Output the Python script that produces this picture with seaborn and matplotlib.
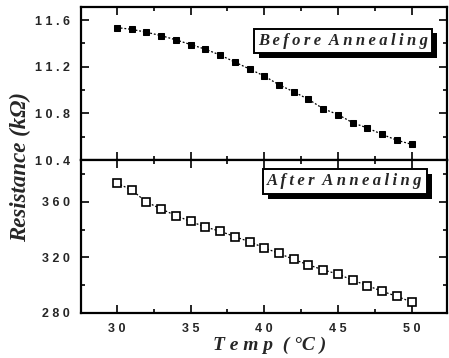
import numpy as np
import pandas as pd
import matplotlib
matplotlib.use('Agg')
import matplotlib.pyplot as plt
import matplotlib.patheffects as pe
from matplotlib.ticker import FixedLocator, MultipleLocator
import seaborn as sns

temp = list(range(30, 51))
before = [11.535, 11.52, 11.495, 11.466, 11.43, 11.39, 11.35, 11.30, 11.24, 11.18, 11.12,
          11.045, 10.985, 10.92, 10.84, 10.79, 10.72, 10.675, 10.62, 10.57, 10.535]
after = [373.4, 368.5, 359.8, 354.9, 350.0, 345.9, 341.8, 338.9, 334.9, 331.3, 326.8,
         322.9, 318.5, 314.6, 311.0, 308.0, 303.6, 299.7, 295.6, 292.0, 287.9]

x_ticks = [30, 35, 40, 45, 50]
top_ticks = [10.4, 10.8, 11.2, 11.6]
bottom_ticks = [280, 320, 360]


def spaced(s, sep=' '):
    return sep.join(s)


sns.set_style('ticks')
plt.rcParams['font.family'] = ['Liberation Sans', 'DejaVu Sans']

df = pd.DataFrame({'temp': temp, 'before': before, 'after': after})

fig, (ax1, ax2) = plt.subplots(2, 1, sharex=True, figsize=(4.49, 3.58), dpi=100)
fig.subplots_adjust(left=0.180, right=0.9955, top=0.980, bottom=0.1257, hspace=0)

sns.lineplot(data=df, x='temp', y='before', ax=ax1, color='black', linestyle=(0, (1.5, 1.5)),
             linewidth=0.9, marker='s', markersize=5, markerfacecolor='black',
             markeredgecolor='black')
sns.lineplot(data=df, x='temp', y='after', ax=ax2, color='black', linestyle=(0, (1.5, 1.5)),
             linewidth=0.9, marker='s', markersize=5.2, markerfacecolor='white',
             markeredgecolor='black', markeredgewidth=1.2)

ax1.set_ylim(10.4, 11.71)
ax2.set_ylim(280, 390)
ax2.set_xlim(27.55, 52.4)

for ax in (ax1, ax2):
    for sp in ax.spines.values():
        sp.set_visible(True)
        sp.set_linewidth(1.6)
        sp.set_color('black')
    ax.xaxis.set_major_locator(FixedLocator(x_ticks))
    ax.xaxis.set_minor_locator(MultipleLocator(2.5))
    ax.tick_params(which='both', direction='in', top=True, right=True, color='black',
                   width=1.2)
    ax.tick_params(which='major', length=6)
    ax.tick_params(which='minor', length=3)
    ax.set_xlabel('')
    ax.set_ylabel('')

ax1.yaxis.set_major_locator(FixedLocator(top_ticks))
ax1.yaxis.set_minor_locator(MultipleLocator(0.2))
ax1.set_yticklabels([spaced(f'{v:.1f}') for v in top_ticks])
ax2.yaxis.set_major_locator(FixedLocator(bottom_ticks))
ax2.yaxis.set_minor_locator(MultipleLocator(20))
ax2.set_yticklabels([spaced(str(v)) for v in bottom_ticks])
ax2.set_xticklabels([spaced(str(v)) for v in x_ticks])
ax1.tick_params(axis='y', pad=8)
ax2.tick_params(axis='y', pad=8)
ax2.tick_params(axis='x', pad=7)

for ax in (ax1, ax2):
    for lab in ax.get_xticklabels() + ax.get_yticklabels():
        lab.set_fontweight('bold')
        lab.set_fontsize(9)
ax1.tick_params(axis='x', labelbottom=False)

box_font = dict(family='Liberation Serif', weight='bold', style='italic', size=12)
for ax, label, y, xr in ((ax1, 'Before Annealing', 0.78, 0.948), (ax2, 'After Annealing', 0.86, 0.934)):
    words = '  '.join(spaced(w, '\u2009') for w in label.split())
    t = ax.text(xr, y, words, transform=ax.transAxes, ha='right', va='center',
                fontdict=box_font,
                bbox=dict(boxstyle='square,pad=0.25', facecolor='white', edgecolor='black',
                          linewidth=1.4))
    t.get_bbox_patch().set_path_effects([
        pe.SimplePatchShadow(offset=(3.5, -3.5), shadow_rgbFace='black', alpha=1.0),
        pe.Normal()])

lab_font = dict(family='Liberation Serif', weight='bold', style='italic')
fig.text(20 / 449, 1 - 167 / 358, 'Resistance (k\u03a9)', rotation=90, ha='center',
         va='center', fontsize=16.5, **lab_font)
fig.text(270 / 449, 1 - 345 / 358, 'T e m p  ( \u00b0C )', ha='center', va='center',
         fontsize=14, **lab_font)

plt.savefig('out.png', dpi=100)
plt.close()
